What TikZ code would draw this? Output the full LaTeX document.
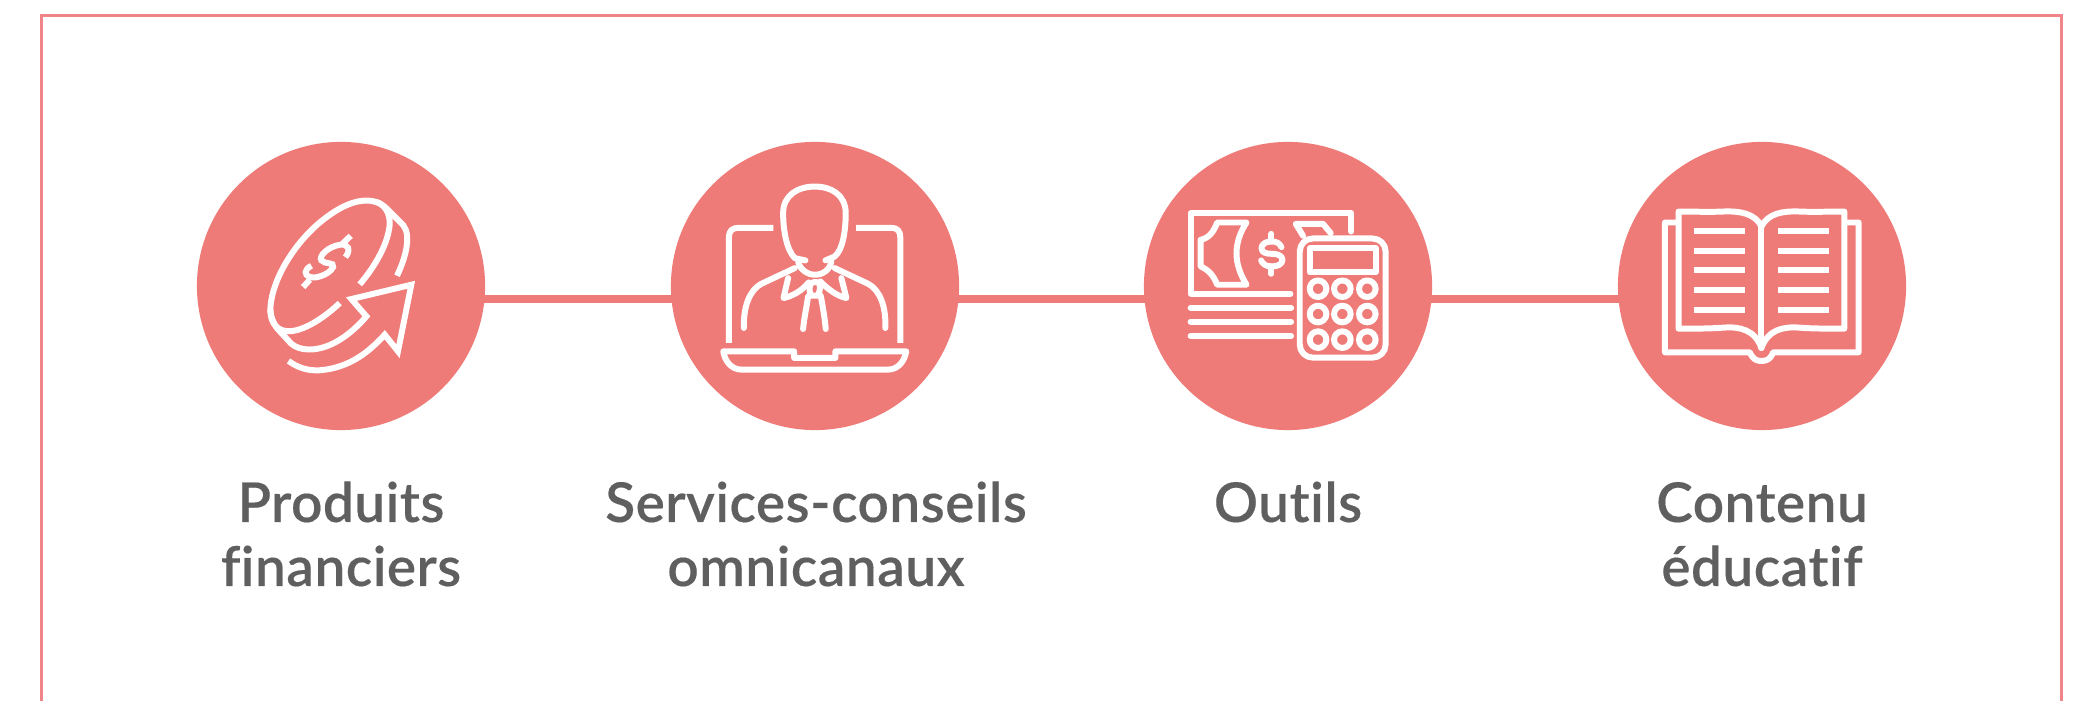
\documentclass[tikz,border=0pt]{standalone}
\usepackage{fontspec}
\setmainfont{Lato}
\newfontfamily\labfont[LetterSpace=1.0,Ligatures=NoCommon,FakeBold=0.3]{Lato Semibold}
\usetikzlibrary{backgrounds}
\definecolor{coral}{HTML}{EE7B78}
\definecolor{framecol}{HTML}{F08488}
\definecolor{textgrey}{HTML}{5F5F5F}
\newcommand{\lblfont}{\fontsize{15.6pt}{18.2pt}\selectfont\labfont}
\tikzset{
  bub/.style={circle,fill=coral,draw=none,minimum size=2.88cm,inner sep=0pt},
  link/.style={draw=coral,line width=2.3pt},
  ico/.style={draw=white,line width=1.7pt,line join=round,line cap=round},
  icob/.style={draw=white,line width=1.7pt,line join=miter,line cap=butt},
  lab/.style={text=textgrey,align=center,inner sep=0pt,anchor=base,font=\lblfont},
  zoomgrid/.style={x=0.0033333cm,y=-0.0033333cm},
}
\begin{document}
\begin{tikzpicture}[x=0.01cm,y=-0.01cm]
\useasboundingbox (0,0) rectangle (2080,701);
\coordinate (fa) at (41.7,701);
\coordinate (fb) at (41.7,15.3);
\coordinate (fc) at (2061.7,15.3);
\coordinate (fd) at (2061.7,701);
\draw[framecol,line width=0.85pt] (fa) -- (fb) -- (fc) -- (fd);
\node[bub] (c1) at (341,286) {};
\node[bub] (c2) at (815,286) {};
\node[bub] (c3) at (1288,286) {};
\node[bub] (c4) at (1762,286) {};
\coordinate (lv) at (0,299);
\begin{scope}[on background layer]
\draw[link] (c1.center |- lv) -- (c2.center |- lv);
\draw[link] (c2.center |- lv) -- (c3.center |- lv);
\draw[link] (c3.center |- lv) -- (c4.center |- lv);
\end{scope}
% icon 1: coin and arrow
\begin{scope}[shift={(180,130)},zoomgrid]
\draw[icob] (480,520) .. controls (425,572) and (360,610) .. (318,604) .. controls (285,600) and (268,570) .. (272,530) .. controls (278,450) and (340,345) .. (420,278) .. controls (480,228) and (535,205) .. (580,214) .. controls (615,220) and (632,250) .. (630,285) .. controls (625,340) and (590,405) .. (540,464);
\draw[icob] (272,540) .. controls (272,565) and (285,590) .. (300,605) -- (325,632) .. controls (345,660) and (390,668) .. (440,650) .. controls (490,632) and (535,590) .. (560,560) -- (515,508) -- (695,465) -- (655,665) -- (615,615) .. controls (570,665) and (510,715) .. (420,722) .. controls (385,724) and (355,715) .. (326,694);
\draw[icob] (585,215) .. controls (605,218) and (620,235) .. (640,255) -- (670,285) .. controls (695,315) and (680,380) .. (652,438);
\draw[icob] (497,382) .. controls (515,360) and (505,340) .. (480,345) .. controls (445,350) and (415,380) .. (425,392) .. controls (435,405) and (465,395) .. (460,412) .. controls (450,435) and (395,455) .. (380,435) .. controls (372,425) and (385,412) .. (395,408);
\draw[icob] (370,472) -- (390,450);
\draw[icob] (485,345) -- (513,318);
\end{scope}
% icon 2: adviser in a laptop
\begin{scope}[shift={(655,130)},zoomgrid]
\draw[ico] (452,392) -- (420,385) .. controls (395,360) and (385,300) .. (385,250) .. controls (385,195) and (430,170) .. (480,170) .. controls (530,170) and (573,195) .. (573,250) .. controls (573,300) and (565,360) .. (540,380) -- (512,392);
\draw[ico] (430,395) .. controls (435,420) and (460,435) .. (480,435) .. controls (505,435) and (525,420) .. (530,395);
\draw[icob] (356,294) -- (250,294) .. controls (232,294) and (222,304) .. (222,322) -- (222,640);
\draw[icob] (604,294) -- (710,294) .. controls (728,294) and (737,304) .. (737,322) -- (737,640);
\draw[ico] (267,595) .. controls (265,530) and (285,480) .. (320,462) -- (420,415);
\draw[ico] (692,595) .. controls (695,530) and (675,480) .. (640,462) -- (540,415);
\draw[ico] (400,445) -- (386,505) .. controls (410,500) and (440,485) .. (462,458);
\draw[ico] (560,445) -- (575,505) .. controls (550,500) and (520,480) .. (497,455);
\draw[ico] (468,462) .. controls (475,455) and (488,455) .. (494,462) .. controls (498,475) and (494,490) .. (488,498) -- (470,498) .. controls (464,490) and (462,475) .. (468,462);
\draw[ico] (460,500) .. controls (455,535) and (448,565) .. (445,598);
\draw[ico] (498,498) .. controls (505,535) and (510,565) .. (513,598);
\draw[ico] (205,665) -- (418,665) -- (418,685) -- (542,685) -- (542,665) -- (755,665) .. controls (750,695) and (730,720) .. (700,720) -- (260,720) .. controls (230,720) and (210,695) .. (205,665) -- cycle;
\end{scope}
% icon 3: banknotes and calculator
\begin{scope}[shift={(1130,130)},zoomgrid]
\draw[ico] (665,305) -- (665,250) -- (182,250) -- (182,492) -- (482,492);
\draw[ico] (182,534) -- (484,534);
\draw[ico] (182,576) -- (484,576);
\draw[ico] (182,619) -- (484,619);
\draw[ico] (350,278) -- (262,278) .. controls (250,310) and (235,325) .. (212,330) -- (212,410) .. controls (235,420) and (250,435) .. (262,465) -- (350,465) .. controls (310,400) and (310,340) .. (350,278) -- cycle;
\draw[ico] (455,352) .. controls (450,340) and (440,335) .. (425,335) .. controls (405,335) and (395,345) .. (395,355) .. controls (395,368) and (408,372) .. (425,372) .. controls (445,372) and (458,378) .. (458,390) .. controls (458,403) and (445,410) .. (425,410) .. controls (408,410) and (398,402) .. (394,392);
\draw[ico] (425,312) -- (425,335);
\draw[ico] (425,410) -- (425,432);
\draw[ico] (520,318) -- (498,282) -- (580,282) -- (603,310);
\draw[ico,rounded corners=0.13cm] (510,326) rectangle (768,684);
\draw[ico] (540,355) rectangle (738,428);
\foreach \yy in {477,553,630} \foreach \xx in {565,638,713}
  \draw[ico] (\xx,\yy) circle[radius=0.083cm];
\end{scope}
% icon 4: open book
\begin{scope}[shift={(1600,130)},zoomgrid]
\draw[ico] (232,278) -- (195,278) -- (195,668) -- (450,668) .. controls (460,690) and (470,694) .. (485,694) .. controls (500,694) and (512,690) .. (520,668) -- (777,668) -- (777,278) -- (738,278);
\draw[ico] (485,290) -- (485,655);
\draw[ico] (485,290) .. controls (465,250) and (420,243) .. (370,245) .. controls (330,247) and (280,245) .. (236,245) -- (236,597) .. controls (280,597) and (330,597) .. (370,594) .. controls (420,590) and (465,600) .. (485,655);
\draw[ico] (485,290) .. controls (505,250) and (550,243) .. (600,245) .. controls (640,247) and (690,245) .. (734,245) -- (734,597) .. controls (690,597) and (640,597) .. (600,594) .. controls (550,590) and (505,600) .. (485,655);
\foreach \yy in {303,363,420,480,540} {
  \draw[icob] (282,\yy) -- (435,\yy);
  \draw[icob] (534,\yy) -- (687,\yy);
}
\end{scope}
\node[lab] (t1) at (341,586) {Produits\\financiers};
\node[lab] (t2) at (816,586) {Services-conseils\\omnicanaux};
\node[lab] (t3) at (1288,522) {Outils};
\node[lab] (t4) at (1762,586) {Contenu\\éducatif};
\end{tikzpicture}
\end{document}
